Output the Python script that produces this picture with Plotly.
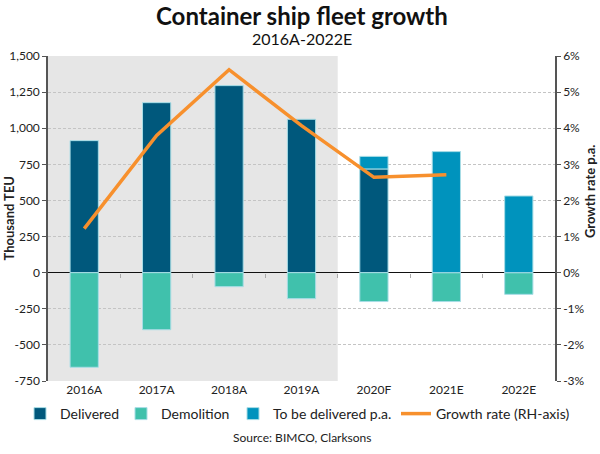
import plotly.graph_objects as go

categories = ["2016A", "2017A", "2018A", "2019A", "2020F", "2021E", "2022E"]
delivered = [914, 1177, 1295, 1062, 718, None, None]
to_be_delivered = [None, None, None, None, 87, 838, 531]
demolition = [-655, -395, -97, -180, -200, -200, -150]
growth_cats = ["2016A", "2017A", "2018A", "2019A", "2020F", "2021E"]
growth_rate = [1.22, 3.8, 5.62, 4.07, 2.64, 2.71]

left_ticks = [-750, -500, -250, 0, 250, 500, 750, 1000, 1250, 1500]
left_labels = ["-750", "-500", "-250", "0", "250", "500", "750", "1,000", "1,250", "1,500"]
right_ticks = [-3, -2, -1, 0, 1, 2, 3, 4, 5, 6]
right_labels = [f"{v}%" for v in right_ticks]

FONT = "Lato"
edge = dict(color="#a8dde6", width=1)

fig = go.Figure()
fig.add_trace(go.Bar(x=categories, y=delivered, name="Delivered", legend="legend",
                     marker=dict(color="#00587c", line=edge), width=0.39))
fig.add_trace(go.Bar(x=categories, y=demolition, name="Demolition", legend="legend2",
                     marker=dict(color="#40c1ac", line=edge), width=0.39))
fig.add_trace(go.Bar(x=categories, y=to_be_delivered, name="To be delivered p.a.", legend="legend3",
                     marker=dict(color="#0093bd", line=edge), width=0.39))
fig.add_trace(go.Scatter(x=growth_cats, y=growth_rate, name="Growth rate (RH-axis)", legend="legend4",
                         mode="lines", line=dict(color="#f7902d", width=3.5), yaxis="y2"))

# dummy axis for tick marks on zero line
fig.add_trace(go.Scatter(x=categories, y=[None]*7, xaxis="x2", showlegend=False,
                         hoverinfo="skip"))

fig.add_shape(type="rect", xref="x", yref="paper", x0=-0.5, x1=3.5, y0=0, y1=1,
              fillcolor="#e6e6e6", line=dict(width=0), layer="below")

PH = 325.0  # plot height in px
PW = 507.0  # plot width in px
LEG_Y = -(414 - 381) / PH


def leg(px):
    return dict(orientation="h", x=(px - 48) / PW, xanchor="left", y=LEG_Y,
                yanchor="middle", bgcolor="rgba(0,0,0,0)", font=dict(size=14))


fig.update_layout(
    width=600, height=454,
    margin=dict(l=48, r=45, t=56, b=73, autoexpand=False),
    barmode="relative",
    plot_bgcolor="white", paper_bgcolor="white",
    font=dict(family=FONT, size=12, color="#222"),
    xaxis=dict(range=[-0.5, 6.5], showgrid=False, ticks="", showline=False,
               tickfont=dict(size=12), automargin=False),
    xaxis2=dict(overlaying="x", anchor="free", position=1/3, range=[-0.5, 6.5],
                tickmode="array", tickvals=[0.5, 1.5, 2.5, 3.5, 4.5, 5.5],
                ticktext=[""]*6, ticks="outside", ticklen=4, tickcolor="#aaa",
                showline=False, showgrid=False, side="bottom", automargin=False),
    yaxis=dict(range=[-750, 1500], tickmode="array", tickvals=left_ticks, ticktext=left_labels,
               showgrid=True, gridcolor="#c4c4c4", griddash="3px,2px", gridwidth=1,
               zeroline=True, zerolinecolor="#111", zerolinewidth=1.2,
               showline=True, linecolor="#555", linewidth=1.5, ticks="outside",
               ticklen=4, tickcolor="#555", automargin=False),
    yaxis2=dict(range=[-3, 6], tickmode="array", tickvals=right_ticks, ticktext=right_labels,
                overlaying="y", side="right", showgrid=False, zeroline=False,
                showline=True, linecolor="#555", linewidth=1.5, ticks="outside",
                ticklen=4, tickcolor="#555", automargin=False),
    legend=leg(20),
    legend2=leg(121),
    legend3=leg(233),
    legend4=leg(396),
    annotations=[
        dict(text="<b>Container ship fleet growth</b>", xref="paper", yref="paper",
             x=0.5, y=1 + (56 - 15) / PH, xanchor="center", yanchor="middle",
             showarrow=False, font=dict(size=24, color="#111")),
        dict(text="2016A-2022E", xref="paper", yref="paper",
             x=0.5, y=1 + (56 - 39) / PH, xanchor="center", yanchor="middle",
             showarrow=False, font=dict(size=16, color="#111")),
        dict(text="<b>Thousand TEU</b>", xref="paper", yref="paper", textangle=-90,
             x=-(48 - 8) / PW, y=0.5, xanchor="center", yanchor="middle",
             showarrow=False, font=dict(size=13)),
        dict(text="<b>Growth rate p.a.</b>", xref="paper", yref="paper", textangle=-90,
             x=1 + (590 - 555) / PW, y=1 - (192 - 56) / PH, xanchor="center", yanchor="middle",
             showarrow=False, font=dict(size=13)),
        dict(text="Source: BIMCO, Clarksons", xref="paper", yref="paper",
             x=0.5, y=-(437 - 381) / PH, xanchor="center", yanchor="middle", showarrow=False,
             font=dict(size=12)),
    ],
    showlegend=True,
)

fig.write_html("out.html", config={"displayModeBar": False},
               post_script="document.body.style.margin='0';")
